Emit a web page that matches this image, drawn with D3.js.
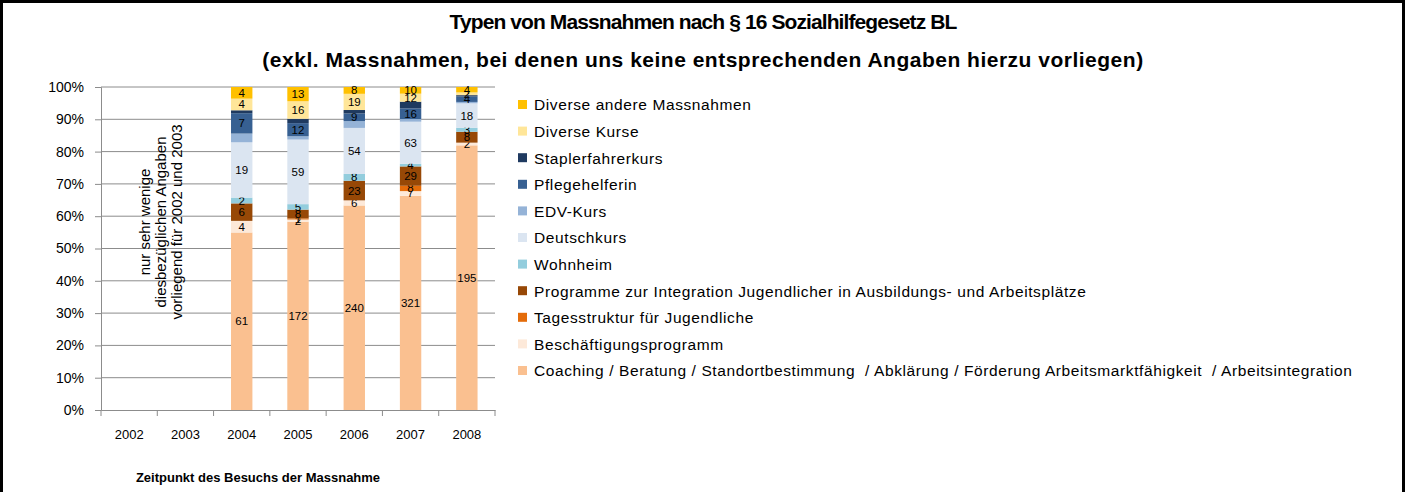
<!DOCTYPE html>
<html>
<head>
<meta charset="utf-8">
<script src="https://cdn.jsdelivr.net/npm/d3@7"></script>
<style>
body { margin: 0; background: #fff; }
text { font-family: "Liberation Sans", Arial, sans-serif; fill: #000; }
</style>
</head>
<body>
<script>
var svg_width  = 1406;
var svg_height = 492;

// years on the x axis (2002 and 2003 have no data)
var years = ["2002", "2003", "2004", "2005", "2006", "2007", "2008"];

// series names, bottom to top of the stack
var seriesNames = [
    "Coaching / Beratung / Standortbestimmung  / Abklärung / Förderung Arbeitsmarktfähigkeit  / Arbeitsintegration",
    "Beschäftigungsprogramm",
    "Tagesstruktur für Jugendliche",
    "Programme zur Integration Jugendlicher in Ausbildungs- und Arbeitsplätze",
    "Wohnheim",
    "Deutschkurs",
    "EDV-Kurs",
    "Pflegehelferin",
    "Staplerfahrerkurs",
    "Diverse Kurse",
    "Diverse andere Massnahmen"
];
var seriesColors = ["#FAC090", "#FDE9D9", "#E46C0A", "#974806", "#93CDDD", "#DBE5F1",
                    "#95B3D7", "#376092", "#1F3A60", "#FFE699", "#FFC000"];
// which series carry visible data labels in the original
var seriesLabelled = [true, true, true, true, true, true, false, true, false, true, true];

// counts per year, same order as years
var coaching      = [0, 0, 61, 172, 240, 321, 195];
var beschaeftigung= [0, 0, 4, 2, 6, 7, 2];
var tagesstruktur = [0, 0, 0, 1, 0, 8, 0];
var integration   = [0, 0, 6, 8, 23, 29, 8];
var wohnheim      = [0, 0, 2, 5, 8, 4, 3];
var deutschkurs   = [0, 0, 19, 59, 54, 63, 18];
var edvKurs       = [0, 0, 3, 3, 8, 4, 1];
var pflege        = [0, 0, 7, 12, 9, 16, 4];
var stapler       = [0, 0, 1, 4, 4, 10, 1];
var diverseKurse  = [0, 0, 4, 16, 19, 12, 2];
var diverseAndere = [0, 0, 4, 13, 8, 10, 4];

var seriesValues = [coaching, beschaeftigung, tagesstruktur, integration, wohnheim,
                    deutschkurs, edvKurs, pflege, stapler, diverseKurse, diverseAndere];

var yTicks = [0, 0.1, 0.2, 0.3, 0.4, 0.5, 0.6, 0.7, 0.8, 0.9, 1];

var titleLines = ["Typen von Massnahmen nach § 16 Sozialhilfegesetz BL",
                  "(exkl. Massnahmen, bei denen uns keine entsprechenden Angaben hierzu vorliegen)"];
var titleSpacing = ["-0.9px", "0.5px"];
var noteLines = ["nur sehr wenige", "diesbezüglichen Angaben", "vorliegend für 2002 und 2003"];
var xTitle = "Zeitpunkt des Besuchs der Massnahme";

// build rows for d3.stack
var rows = years.map(function(y, i) {
    var r = {year: y};
    seriesNames.forEach(function(s, k) { r[s] = seriesValues[k][i]; });
    return r;
});

var svg = d3.select('body').append('svg')
            .attr('width', svg_width)
            .attr('height', svg_height);

// outer frame
svg.append("rect")
   .attr("x", 1.5).attr("y", 1.5)
   .attr("width", svg_width - 4).attr("height", svg_height + 10)
   .attr("fill", "none").attr("stroke", "#000").attr("stroke-width", 3);

// title
svg.append("g").selectAll("text")
   .data(titleLines)
   .enter().append("text")
   .attr("x", 703)
   .attr("y", (d, i) => 29 + i * 38)
   .attr("text-anchor", "middle")
   .style("letter-spacing", (d, i) => titleSpacing[i])
   .style("font-weight", "bold")
   .style("font-size", "21px")
   .text(d => d);

var x = d3.scaleBand()
          .domain(years)
          .range([101, 495])
          .paddingInner(0.62)
          .paddingOuter(0.31);

var y = d3.scaleLinear()
          .domain([0, 1])
          .range([410, 87]);

// gridlines
svg.append("g").selectAll("line")
   .data(yTicks.slice(1))
   .enter().append("line")
   .attr("x1", 101).attr("x2", 495)
   .attr("y1", d => y(d)).attr("y2", d => y(d))
   .attr("stroke", "#8c8c8c").attr("stroke-width", 1);

// y axis
var yAxis = svg.append("g")
   .attr("transform", "translate(101,0)")
   .call(d3.axisLeft(y).tickValues(yTicks).tickFormat(d3.format(".0%")).tickSize(6).tickPadding(11));
yAxis.select(".domain").attr("stroke", "#8c8c8c");
yAxis.selectAll(".tick line").attr("stroke", "#8c8c8c");
yAxis.selectAll("text").style("font-size", "14px").style("font-family", "'Liberation Sans', sans-serif");

var stack = d3.stack()
              .keys(seriesNames)
              .offset(d3.stackOffsetExpand);
var stacked = stack(rows);

// bars
var layer = svg.append("g").selectAll("g")
   .data(stacked)
   .enter().append("g")
   .attr("fill", (d, i) => seriesColors[i]);

layer.selectAll("rect")
   .data(d => d)
   .enter().append("rect")
   .filter(d => !isNaN(d[1]) && d[1] > d[0])
   .attr("x", d => x(d.data.year))
   .attr("width", x.bandwidth())
   .attr("y", d => y(d[1]))
   .attr("height", d => y(d[0]) - y(d[1]));

// data labels
layer.each(function(s, k) {
    if (!seriesLabelled[k]) return;
    d3.select(this).selectAll("text")
      .data(s.filter(d => d.data[s.key] > 0))
      .enter().append("text")
      .attr("x", d => x(d.data.year) + x.bandwidth() / 2)
      .attr("y", d => (y(d[0]) + y(d[1])) / 2)
      .attr("dy", "0.35em")
      .attr("text-anchor", "middle")
      .style("font-size", "11.5px")
      .text(d => d.data[s.key]);
});

// x axis
var xAxis = svg.append("g")
   .attr("transform", "translate(0,410)")
   .call(d3.axisBottom(x).tickSize(0).tickPadding(20));
xAxis.select(".domain").attr("stroke", "#8c8c8c");
xAxis.selectAll("text").style("font-size", "13px").style("font-family", "'Liberation Sans', sans-serif");
// category separators
svg.append("g").selectAll("line")
   .data(d3.range(years.length + 1))
   .enter().append("line")
   .attr("x1", d => 101 + d * x.step()).attr("x2", d => 101 + d * x.step())
   .attr("y1", 410).attr("y2", 416)
   .attr("stroke", "#8c8c8c");

svg.append("text")
   .attr("x", 258).attr("y", 482)
   .attr("text-anchor", "middle")
   .style("font-size", "13px")
   .style("font-weight", "bold")
   .text(xTitle);

// rotated note for 2002/2003
svg.append("g")
   .attr("transform", "translate(161,222) rotate(-90)")
   .selectAll("text")
   .data(noteLines)
   .enter().append("text")
   .attr("x", 0)
   .attr("y", (d, i) => (i - 1) * 16 + 5)
   .attr("text-anchor", "middle")
   .style("font-size", "15px")
   .text(d => d);

// legend, top entry is last series
var legend = svg.append("g").selectAll("g")
   .data(seriesNames.slice().reverse())
   .enter().append("g")
   .attr("transform", (d, i) => "translate(518," + (105 + i * 26.6) + ")");

legend.append("rect")
   .attr("x", 0).attr("y", -5)
   .attr("width", 9).attr("height", 9)
   .attr("fill", d => seriesColors[seriesNames.indexOf(d)]);

legend.append("text")
   .attr("x", 16).attr("y", 0)
   .attr("dy", "0.35em")
   .style("font-size", "15.5px")
   .style("letter-spacing", "0.6px")
   .style("white-space", "pre")
   .text(d => d);
</script>
</body>
</html>
